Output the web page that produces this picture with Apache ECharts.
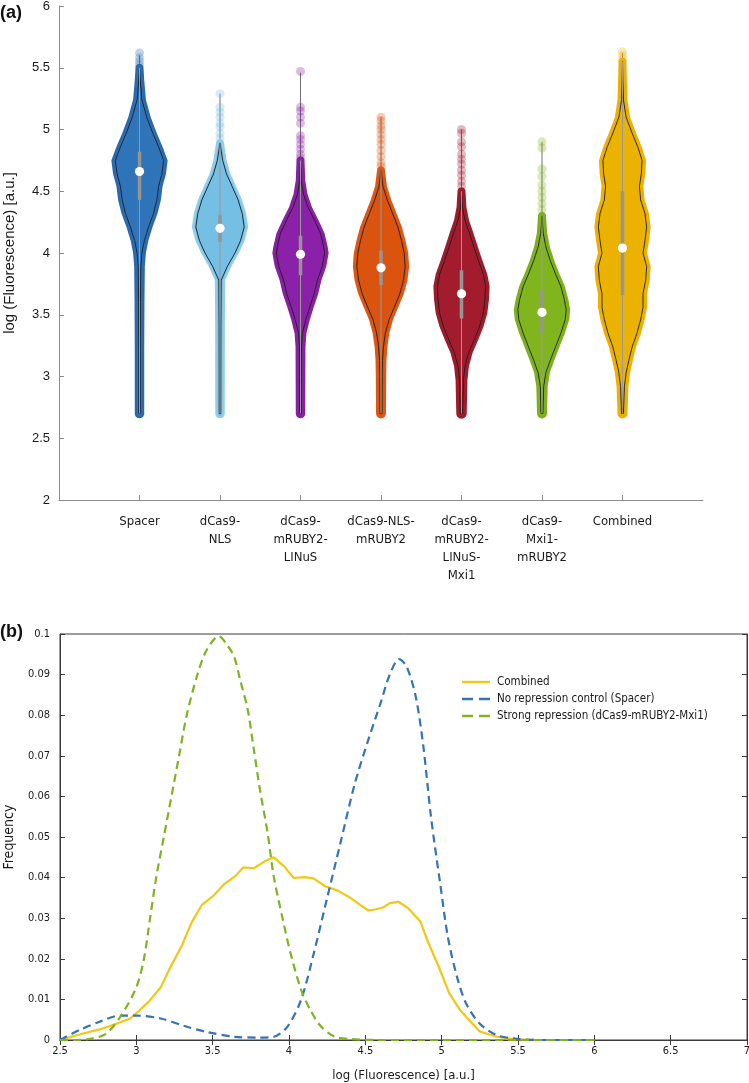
<!DOCTYPE html>
<html><head><meta charset="utf-8">
<script src="https://cdn.jsdelivr.net/npm/echarts@6/dist/echarts.min.js"></script>
<style>html,body{margin:0;padding:0;background:#fff}#c{width:749px;height:1083px}</style>
</head><body><div id="c"></div><script>
// ---------- DATA: panel (a) ----------
const categories = ['Spacer', 'dCas9-\nNLS', 'dCas9-\nmRUBY2-\nLINuS', 'dCas9-NLS-\nmRUBY2', 'dCas9-\nmRUBY2-\nLINuS-\nMxi1', 'dCas9-\nMxi1-\nmRUBY2', 'Combined'];

// violin profiles: log fluorescence levels and relative density (max = 1)
const spacerY = [2.7, 3.2, 3.6, 3.89, 4.0, 4.10, 4.21, 4.32, 4.43, 4.54, 4.64, 4.75, 4.86, 4.97, 5.10, 5.24, 5.40, 5.5];
const spacerD = [0.03, 0.03, 0.04, 0.055, 0.1, 0.2, 0.375, 0.58, 0.72, 0.79, 0.93, 1.0, 0.79, 0.55, 0.3, 0.1, 0.03, 0];
const nlsY = [2.7, 3.4, 3.78, 3.89, 4.0, 4.10, 4.21, 4.32, 4.43, 4.54, 4.64, 4.75, 4.89];
const nlsD = [0.03, 0.035, 0.05, 0.3, 0.62, 0.85, 1.0, 0.92, 0.75, 0.5, 0.27, 0.11, 0];
const linusY = [2.7, 3.0, 3.24, 3.35, 3.46, 3.56, 3.67, 3.78, 3.89, 4.0, 4.05, 4.16, 4.27, 4.37, 4.48, 4.59, 4.75];
const linusD = [0.03, 0.035, 0.04, 0.08, 0.22, 0.38, 0.57, 0.7, 0.9, 1.0, 0.96, 0.83, 0.57, 0.31, 0.12, 0.03, 0];
const nlsRubyY = [2.7, 3.0, 3.13, 3.24, 3.35, 3.46, 3.56, 3.67, 3.78, 3.89, 4.0, 4.10, 4.21, 4.32, 4.43, 4.54, 4.67];
const nlsRubyD = [0.04, 0.05, 0.06, 0.1, 0.18, 0.33, 0.55, 0.78, 0.93, 1.0, 0.96, 0.85, 0.7, 0.48, 0.26, 0.08, 0];
const linusMxiY = [2.7, 2.97, 3.08, 3.19, 3.29, 3.40, 3.51, 3.62, 3.73, 3.83, 3.94, 4.05, 4.16, 4.27, 4.37, 4.5];
const linusMxiD = [0.05, 0.08, 0.14, 0.29, 0.51, 0.74, 0.9, 0.97, 1.0, 0.9, 0.7, 0.51, 0.33, 0.14, 0.04, 0];
const mxiY = [2.7, 2.92, 3.03, 3.13, 3.24, 3.35, 3.46, 3.54, 3.62, 3.73, 3.83, 3.94, 4.05, 4.16, 4.3];
const mxiD = [0.04, 0.07, 0.16, 0.34, 0.56, 0.78, 0.96, 1.0, 0.93, 0.78, 0.56, 0.34, 0.16, 0.05, 0];
const combY = [2.7, 2.92, 3.03, 3.13, 3.24, 3.35, 3.46, 3.56, 3.67, 3.78, 3.89, 4.0, 4.10, 4.21, 4.32, 4.43, 4.54, 4.64, 4.75, 4.86, 4.97, 5.10, 5.24, 5.40, 5.55];
const combD = [0.04, 0.08, 0.15, 0.26, 0.4, 0.6, 0.75, 0.85, 0.85, 0.96, 1.0, 0.85, 0.93, 1.0, 0.93, 0.75, 0.7, 0.78, 0.81, 0.63, 0.4, 0.15, 0.04, 0.015, 0];

const medians = [4.66, 4.20, 3.99, 3.88, 3.67, 3.52, 4.04];
const q1 = [4.43, 4.09, 3.82, 3.74, 3.47, 3.35, 3.66];
const q3 = [4.82, 4.31, 4.14, 4.02, 3.86, 3.70, 4.50];
const whiskerLow = [2.7, 2.7, 2.7, 2.7, 2.7, 2.7, 2.7];
const whiskerHigh = [5.60, 5.29, 5.46, 5.10, 5.00, 4.90, 5.62];

const spacerOut = [5.62, 5.58, 5.55, 5.52];
const nlsOut = [5.29, 5.18, 5.14, 5.1, 5.05, 5.02, 4.97, 4.93];
const linusOut = [5.47, 5.18, 5.15, 5.1, 5.05, 4.95, 4.92, 4.88, 4.84, 4.8, 4.77];
const nlsRubyOut = [5.10, 5.07, 5.03, 5.0, 4.96, 4.92, 4.88, 4.83, 4.78, 4.73, 4.7];
const linusMxiOut = [5.0, 4.97, 4.9, 4.86, 4.8, 4.76, 4.72, 4.67, 4.63, 4.58, 4.54];
const mxiOut = [4.90, 4.85, 4.68, 4.62, 4.55, 4.5, 4.45, 4.4, 4.35];
const combOut = [5.63, 5.6, 5.57];

// ---------- DATA: panel (b) ----------
const combinedX = [2.5,2.65,2.76,2.87,2.96,3.0,3.08,3.16,3.22,3.30,3.36,3.43,3.51,3.57,3.65,3.70,3.77,3.84,3.90,3.97,4.03,4.10,4.16,4.24,4.32,4.39,4.45,4.52,4.57,4.62,4.66,4.72,4.78,4.86,4.91,4.98,5.05,5.12,5.19,5.25,5.36,5.47,5.62,6.0];
const combinedF = [0,0.0016,0.0026,0.004,0.0053,0.0066,0.0094,0.013,0.0177,0.0234,0.0288,0.0333,0.0357,0.0382,0.0404,0.0425,0.0423,0.044,0.045,0.0427,0.0399,0.0401,0.0398,0.0378,0.0368,0.0353,0.0337,0.0319,0.0322,0.0327,0.0337,0.034,0.0325,0.0292,0.0242,0.0181,0.0115,0.0074,0.0045,0.0021,0.0008,0.0002,0,0];
const spacerX = [2.5,2.63,2.76,2.89,3.0,3.16,3.31,3.46,3.64,3.81,3.9,3.99,4.08,4.16,4.25,4.34,4.43,4.52,4.6,4.66,4.72,4.77,4.83,4.88,4.93,4.99,5.04,5.10,5.16,5.25,5.36,5.47,5.62,6.0];
const spacerF = [0,0.0025,0.0045,0.006,0.006,0.0053,0.0035,0.002,0.0008,0.0006,0.0008,0.0033,0.010,0.021,0.035,0.049,0.063,0.074,0.083,0.09,0.0938,0.092,0.0846,0.0723,0.055,0.0386,0.0255,0.0156,0.009,0.004,0.0012,0.0004,0,0];
const strongX = [2.5,2.6,2.7,2.8,2.9,3.0,3.05,3.09,3.13,3.18,3.23,3.28,3.33,3.40,3.46,3.54,3.6,3.64,3.68,3.73,3.77,3.81,3.86,3.90,3.96,4.01,4.08,4.14,4.21,4.30,4.41,4.6,6.0];
const strongF = [0,0,0.0003,0.0015,0.006,0.013,0.02,0.03,0.04,0.05,0.06,0.07,0.08,0.09,0.096,0.0995,0.097,0.0945,0.0887,0.0813,0.0715,0.0616,0.051,0.0403,0.0296,0.0214,0.0123,0.0074,0.0033,0.0008,0.0002,0,0];
const seriesNames = ['Combined', 'No repression control (Spacer)', 'Strong repression (dCas9-mRUBY2-Mxi1)'];

// ---------- STYLE ----------
const fillColors = ['#2f73b9', '#76bfe4', '#8b20a9', '#da540f', '#a31c2d', '#80b51d', '#ecb201'];
const bandColors = ['#2b69ad', '#92cdec', '#86219f', '#dc5915', '#9c1c2c', '#7bb01a', '#eeb000'];
const lineColors = ['#f1c813', '#3473b5', '#7fb322'];
const lineDashes = [null, [8, 5], [8, 5]];
const violinY = [spacerY, nlsY, linusY, nlsRubyY, linusMxiY, mxiY, combY];
const violinD = [spacerD, nlsD, linusD, nlsRubyD, linusMxiD, mxiD, combD];
const violinOut = [spacerOut, nlsOut, linusOut, nlsRubyOut, linusMxiOut, mxiOut, combOut];
const VIOLIN_HALF = 0.3;
const NARROW = '"Liberation Sans Narrow", "Arial Narrow", "DejaVu Sans Condensed", sans-serif';
const SANS = '"Liberation Sans", Arial, sans-serif';

function hexA(hex, a) {
  const n = parseInt(hex.slice(1), 16);
  return 'rgba(' + (n >> 16) + ',' + ((n >> 8) & 255) + ',' + (n & 255) + ',' + a + ')';
}

function renderViolin(params, api) {
  const i = params.dataIndex;
  const cat = i + 1;
  const ys = violinY[i], ds = violinD[i];
  const cx = api.coord([cat, 4])[0];
  const unit = api.size([1, 0])[0];
  const wMax = unit * VIOLIN_HALF;
  const py = ys.map(v => api.coord([cat, v])[1]);
  const hw = ds.map(d => d * wMax);
  const n = ys.length;
  function shape(extra, caps) {
    const pts = [];
    if (caps) {
      const r = hw[0] + extra;
      for (let k = 0; k <= 12; k++) { const a = Math.PI - Math.PI * k / 12; pts.push([cx + r * Math.cos(a), py[0] + r * Math.sin(a)]); }
    }
    for (let j = 0; j < n; j++) pts.push([cx + hw[j] + extra, py[j]]);
    if (caps) {
      const r = hw[n - 1] + extra;
      for (let k = 0; k <= 12; k++) { const a = Math.PI * k / 12; pts.push([cx + r * Math.cos(a), py[n - 1] - r * Math.sin(a)]); }
    }
    for (let j = n - 1; j >= 0; j--) pts.push([cx - hw[j] - extra, py[j]]);
    return pts;
  }
  const children = [];
  const wl = api.coord([cat, whiskerLow[i]])[1], wh = api.coord([cat, whiskerHigh[i]])[1];
  children.push({ type: 'line', shape: { x1: cx, y1: wl, x2: cx, y2: wh }, style: { stroke: '#6e6e6e', lineWidth: 1 } });
  violinOut[i].forEach(v => {
    const p = api.coord([cat, v]);
    children.push({ type: 'circle', shape: { cx: p[0], cy: p[1], r: 4.5 }, style: { fill: hexA(fillColors[i], 0.3) } });
  });
  children.push({ type: 'polygon', shape: { points: shape(4, true) }, style: { fill: bandColors[i] } });
  children.push({ type: 'polygon', shape: { points: shape(1.5, true) }, style: { fill: fillColors[i] } });
  children.push({ type: 'polygon', shape: { points: shape(0, false) }, style: { fill: 'none', stroke: '#1c1c1c', lineWidth: 0.9 } });
  children.push({ type: 'line', shape: { x1: cx, y1: wl, x2: cx, y2: py[n - 1] }, style: { stroke: '#9a9a9a', lineWidth: 1 } });
  const b1 = api.coord([cat, q1[i]])[1], b3 = api.coord([cat, q3[i]])[1];
  children.push({ type: 'line', shape: { x1: cx, y1: b1, x2: cx, y2: b3 }, style: { stroke: '#959595', lineWidth: 3.5 } });
  const m = api.coord([cat, medians[i]]);
  children.push({ type: 'circle', shape: { cx: m[0], cy: m[1], r: 4.6 }, style: { fill: '#ffffff' } });
  return { type: 'group', children: children };
}

// legend drawn as graphic (line samples with each series' dash style)
const legendGraphics = [];
seriesNames.forEach((name, k) => {
  const y = 682 + k * 17;
  legendGraphics.push({ type: 'line', shape: { x1: 462, y1: y, x2: 490, y2: y },
    style: { stroke: lineColors[k], lineWidth: 2.4, lineDash: lineDashes[k] ? [11, 6] : null } });
  legendGraphics.push({ type: 'text', x: 497, y: y,
    style: { text: name, font: '11.5px ' + NARROW, fill: '#1a1a1a', textVerticalAlign: 'middle', verticalAlign: 'middle' } });
});

const chart = echarts.init(document.getElementById('c'), null, { renderer: 'canvas' });
const catAxisData = [''].concat(categories).concat(['']);
const showInner = (idx) => idx > 0 && idx < catAxisData.length - 1;
const bottomAxisLine = { show: true, lineStyle: { color: '#3a3a3a', width: 1 } };

chart.setOption({
  animation: false,
  backgroundColor: '#ffffff',
  graphic: [
    { type: 'text', left: 0, top: 4, style: { text: '(a)', font: 'bold 18px ' + SANS, fill: '#111' } },
    { type: 'text', left: 0, top: 623, style: { text: '(b)', font: 'bold 18px ' + SANS, fill: '#111' } }
  ].concat(legendGraphics),
  grid: [
    { left: 59, right: 46, top: 6, bottom: 583, containLabel: false, outerBoundsMode: 'none' },
    { left: 60, right: 2, top: 634, bottom: 43, show: true, borderColor: '#3a3a3a', borderWidth: 1, containLabel: false, outerBoundsMode: 'none' }
  ],
  xAxis: [
    {
      gridIndex: 0, type: 'category', data: catAxisData, boundaryGap: false,
      axisLine: { lineStyle: { color: '#8c8c8c' } },
      axisTick: { inside: true, length: 5, interval: showInner, lineStyle: { color: '#8c8c8c' } },
      axisLabel: { interval: showInner, margin: 13, fontFamily: NARROW, fontSize: 13, lineHeight: 18, color: '#1a1a1a' },
      splitLine: { show: false }
    },
    {
      gridIndex: 1, type: 'value', min: 2.5, max: 7, interval: 0.5,
      axisLine: bottomAxisLine,
      axisTick: { inside: true, length: 5, lineStyle: { color: '#3a3a3a' } },
      axisLabel: { margin: 6, fontFamily: NARROW, fontSize: 11, color: '#1a1a1a' },
      splitLine: { show: false },
      name: 'log (Fluorescence) [a.u.]', nameLocation: 'middle', nameGap: 29,
      nameTextStyle: { fontFamily: NARROW, fontSize: 13, color: '#1a1a1a' }
    },
    {
      gridIndex: 1, type: 'value', min: 2.5, max: 7, interval: 0.5, position: 'top',
      axisLine: bottomAxisLine,
      axisTick: { inside: true, length: 5, lineStyle: { color: '#3a3a3a' } },
      axisLabel: { show: false }, splitLine: { show: false }
    }
  ],
  yAxis: [
    {
      gridIndex: 0, type: 'value', min: 2, max: 6, interval: 0.5,
      axisLine: { show: true, lineStyle: { color: '#8c8c8c' } },
      axisTick: { show: true, inside: true, length: 5, lineStyle: { color: '#8c8c8c' } },
      axisLabel: { margin: 9, fontFamily: SANS, fontSize: 13, color: '#1a1a1a' },
      splitLine: { show: false },
      name: 'log (Fluorescence) [a.u.]', nameLocation: 'middle', nameGap: 42,
      nameTextStyle: { fontFamily: SANS, fontSize: 15, color: '#1a1a1a' }
    },
    {
      gridIndex: 1, type: 'value', min: 0, max: 0.1, interval: 0.01,
      axisLine: bottomAxisLine,
      axisTick: { show: true, inside: true, length: 5, lineStyle: { color: '#3a3a3a' } },
      axisLabel: { margin: 10, fontFamily: NARROW, fontSize: 11, color: '#1a1a1a' },
      splitLine: { show: false },
      name: 'Frequency', nameLocation: 'middle', nameGap: 44,
      nameTextStyle: { fontFamily: NARROW, fontSize: 14, color: '#1a1a1a' }
    },
    {
      gridIndex: 1, type: 'value', min: 0, max: 0.1, interval: 0.01, position: 'right',
      axisLine: bottomAxisLine,
      axisTick: { show: true, inside: true, length: 5, lineStyle: { color: '#3a3a3a' } },
      axisLabel: { show: false }, splitLine: { show: false }
    }
  ],
  series: [
    {
      type: 'custom', name: 'violins', xAxisIndex: 0, yAxisIndex: 0,
      data: categories.map((c, i) => [i + 1, medians[i]]),
      encode: { x: 0, y: 1 },
      renderItem: renderViolin, silent: true, clip: false
    },
    {
      type: 'line', name: seriesNames[0], xAxisIndex: 1, yAxisIndex: 1,
      data: combinedX.map((x, i) => [x, combinedF[i]]),
      showSymbol: false, symbol: 'none', z: 3,
      lineStyle: { color: lineColors[0], width: 2.2 }
    },
    {
      type: 'line', name: seriesNames[1], xAxisIndex: 1, yAxisIndex: 1,
      data: spacerX.map((x, i) => [x, spacerF[i]]), smooth: 0.3,
      showSymbol: false, symbol: 'none', z: 4,
      lineStyle: { color: lineColors[1], width: 2.2, type: lineDashes[1] }
    },
    {
      type: 'line', name: seriesNames[2], xAxisIndex: 1, yAxisIndex: 1,
      data: strongX.map((x, i) => [x, strongF[i]]), smooth: 0.3,
      showSymbol: false, symbol: 'none', z: 5,
      lineStyle: { color: lineColors[2], width: 2.2, type: lineDashes[2] }
    }
  ]
});
</script></body></html>
